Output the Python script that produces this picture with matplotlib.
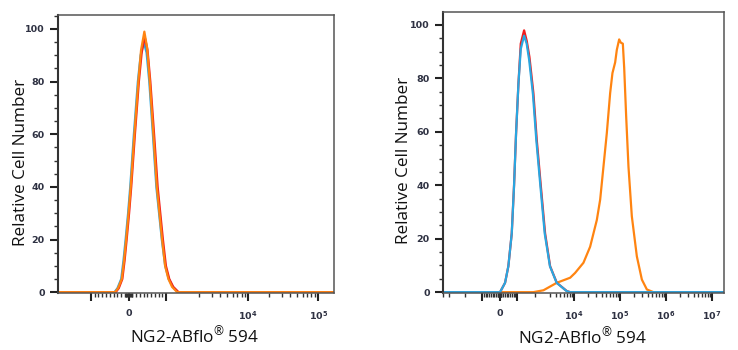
import matplotlib
matplotlib.use('Agg')
import matplotlib.pyplot as plt
from matplotlib.ticker import FixedLocator, FixedFormatter, MultipleLocator

# control panel (isotype / unstained overlay)
ctrl_orange_x = [-1980, -490, -360, -280, -180, -120, -64, 0, 58, 155, 261, 333, 421,
                 493, 565, 661, 752, 893, 973, 1061, 1159, 1293, 168000]
ctrl_orange_y = [0, 0, 0, 1.5, 5, 12, 20, 30, 40, 60, 80, 92, 99,
                 93, 80, 60, 40, 20, 10, 5, 2, 0, 0]
ctrl_red_x = [-1980, -470, -340, -260, -165, -105, -50, 15, 72, 170, 275, 350, 430,
              505, 580, 680, 775, 915, 995, 1085, 1190, 1330, 168000]
ctrl_red_y = [0, 0, 0, 1.5, 5, 12, 20, 30, 40, 60, 80, 91, 97,
              92, 80, 60, 40, 20, 10, 5, 2, 0, 0]
ctrl_cyan_x = [-1980, -500, -375, -295, -195, -135, -78, -12, 45, 142, 248, 322, 405,
               480, 552, 648, 740, 885, 975, 1070, 1180, 1320, 168000]
ctrl_cyan_y = [0, 0, 0, 1.5, 5, 12, 20, 30, 40, 60, 80, 90, 95,
               91, 80, 60, 40, 20, 10, 5, 2, 0, 0]

# stained panel
stain_red_x = [-4080, 0, 29, 315, 503, 697, 829, 944, 1079, 1211, 1403, 1555, 1708,
               1934, 2126, 2355, 2603, 3026, 4226, 6990, 8250, 1.83e7]
stain_red_y = [0, 0, 0, 3.5, 9.7, 22, 40, 59.5, 78, 93, 98, 94, 88,
               74.5, 57, 40, 22, 9.7, 3.5, 0.4, 0, 0]
stain_cyan_x = [-4080, 0, 29, 315, 503, 697, 829, 944, 1079, 1211, 1403, 1550, 1690,
                1910, 2100, 2330, 2580, 3000, 4200, 6900, 8200, 1.83e7]
stain_cyan_y = [0, 0, 0, 3.5, 9.7, 22, 40, 59.5, 78, 91, 96, 93, 87,
                74, 57, 40, 22, 9.7, 3.5, 0.4, 0, 0]
stain_orange_x = [-4080, 1934, 2508, 4226, 8250, 10570, 16040, 22400, 31300, 36980,
                  43650, 51580, 60960, 68400, 78300, 85100, 95700, 103900, 115000,
                  123000, 135800, 152400, 180300, 231700, 297900, 382600, 532000, 1.83e7]
stain_orange_y = [0, 0, 0.7, 3.5, 5.4, 7.2, 11, 17, 27, 34.6,
                  47, 59.5, 74.5, 82, 86, 90.7, 94.6, 93.4, 93,
                  84, 65.8, 47, 28.4, 13.4, 4.7, 1, 0, 0]

RED = '#f21d1d'
ORANGE = '#ff8411'
CYAN = '#2aa6e0'
TICK_COLOR = '#2e3142'

plt.rcParams['font.family'] = ['Open Sans', 'DejaVu Sans']
plt.rcParams['mathtext.fontset'] = 'custom'
plt.rcParams['mathtext.rm'] = 'Open Sans'
plt.rcParams['mathtext.it'] = 'Open Sans'
plt.rcParams['mathtext.bf'] = 'DejaVu Sans:bold'


def style_axes(ax, linthresh, linscale, xlim, top_decade, ymax, label_x):
    ax.set_xscale('symlog', linthresh=linthresh, linscale=linscale, base=10)
    ax.set_xlim(*xlim)
    ax.set_ylim(-0.3, ymax)

    major = [-1000, 0, 1000] + [10 ** k for k in range(4, top_decade + 1)]
    labels = ['', '0', ''] + [r'$\mathbf{10^{%d}}$' % k for k in range(4, top_decade + 1)]
    ax.xaxis.set_major_locator(FixedLocator(major))
    ax.xaxis.set_major_formatter(FixedFormatter(labels))
    minor = []
    for s in (-1, 1):
        minor += [s * v for v in range(20, 100, 20)]
        minor += [s * v for v in range(100, 1000, 100)]
        minor += [s * m * 1000 for m in range(2, 10)]
    for k in range(4, top_decade):
        minor += [m * 10 ** k for m in range(2, 10)]
    minor = [v for v in minor if xlim[0] < v < xlim[1]]
    ax.xaxis.set_minor_locator(FixedLocator(minor))

    ax.yaxis.set_major_locator(MultipleLocator(20))
    ax.yaxis.set_minor_locator(MultipleLocator(5))

    ax.tick_params(axis='both', which='major', direction='out', length=5.5, width=1.5,
                   color='#222222', labelsize=6.8, labelcolor=TICK_COLOR, pad=4)
    ax.tick_params(axis='x', which='major', pad=6)
    ax.tick_params(axis='both', which='minor', direction='out', length=3, width=1,
                   color='#333333')
    for lab in ax.get_yticklabels() + ax.get_xticklabels():
        lab.set_fontfamily('DejaVu Sans')
        lab.set_fontweight('bold')

    for side in ('top', 'right', 'bottom', 'left'):
        ax.spines[side].set_color('#555555')
        ax.spines[side].set_linewidth(1.1)
    ax.spines['left'].set_color('#333333')
    ax.spines['left'].set_linewidth(1.5)

    ax.set_ylabel('Relative Cell Number', fontsize=12.3, color='#111111')
    ax.set_xlabel(r'NG2-ABflo$^{\mathrm{®}}$ 594', fontsize=12.3, color='#111111')
    ax.yaxis.set_label_coords(label_x, 0.47)
    ax.xaxis.set_label_coords(0.495, -0.115)


fig = plt.figure(figsize=(7.38, 3.5), dpi=100)
ax1 = fig.add_axes([0.0786, 0.163, 0.374, 0.794])
ax2 = fig.add_axes([0.6003, 0.163, 0.381, 0.803])

ax1.plot(ctrl_cyan_x, ctrl_cyan_y, color=CYAN, lw=1.6)
ax1.plot(ctrl_red_x, ctrl_red_y, color=RED, lw=1.6)
ax1.plot(ctrl_orange_x, ctrl_orange_y, color=ORANGE, lw=1.6)
style_axes(ax1, 1800, 0.87, (-1980, 168000), 5, 105.3, -0.105)

ax2.plot(stain_orange_x, stain_orange_y, color=ORANGE, lw=1.6)
ax2.plot(stain_red_x, stain_red_y, color=RED, lw=1.6)
ax2.plot(stain_cyan_x, stain_cyan_y, color=CYAN, lw=1.6)
style_axes(ax2, 2800, 0.958, (-4080, 1.83e7), 7, 104.9, -0.11)

fig.savefig('out.png', dpi=100)
